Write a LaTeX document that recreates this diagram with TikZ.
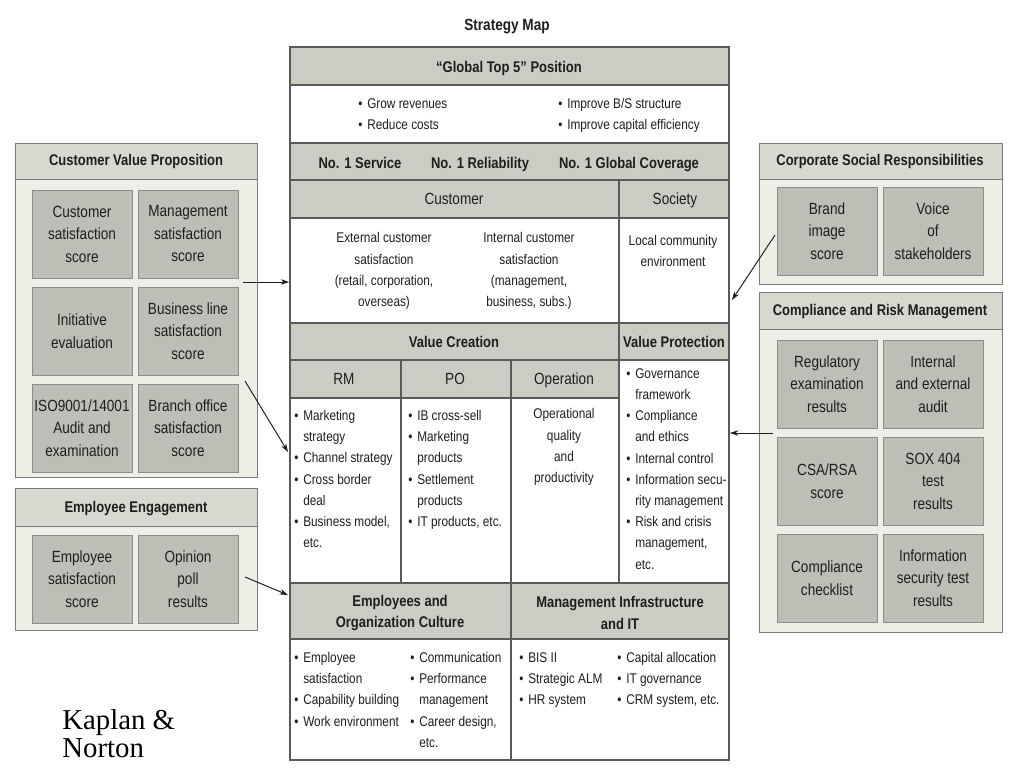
\documentclass[tikz,border=0pt]{standalone}
\usepackage{fontspec}
\setmainfont[FakeStretch=0.84]{Liberation Sans}
\newfontfamily\kaplanfont{Liberation Serif}
\usepackage{tikz}
\usetikzlibrary{arrows.meta, positioning}
\definecolor{bandgray}{RGB}{204,204,196}
\definecolor{panelgray}{RGB}{238,238,231}
\definecolor{panelhead}{RGB}{216,216,208}
\definecolor{tilegray}{RGB}{190,190,183}
\definecolor{edgegray}{RGB}{90,90,90}
\definecolor{inkgray}{RGB}{30,30,30}
\newcommand{\bt}{\makebox[6.4pt][l]{\textbullet}}
\newcommand{\bi}{\hspace*{6.4pt}}
\tikzset{
  tile/.style={rectangle, draw=edgegray!70, fill=tilegray, line width=0.6pt,
              minimum width=2.5cm, minimum height=2.2cm, inner sep=1pt,
              font=\fontsize{11.5}{16}\selectfont, align=center},
  headtxt/.style={font=\bfseries\fontsize{11}{15.3}\selectfont, align=center, inner sep=0pt},
  oneline/.style={text height=8.2pt, text depth=2.2pt},
  coltxt/.style={font=\fontsize{11.5}{15}\selectfont, inner sep=0pt, oneline},
  body/.style={font=\fontsize{10}{15.1}\selectfont, align=center, inner sep=0pt},
  blist/.style={font=\fontsize{10}{15.1}\selectfont, align=left, anchor=north west, inner sep=0pt},
  gridline/.style={draw=edgegray, line width=0.9pt},
  frame/.style={rectangle, draw=edgegray, line width=1.1pt, inner sep=0pt},
  panel/.style={draw=edgegray!80, fill=panelgray, line width=0.7pt},
  panelhd/.style={draw=edgegray!80, fill=panelhead, line width=0.7pt},
  arrow/.style={-{Stealth[length=6pt,width=4pt]}, line width=0.7pt, draw=inkgray},
}
\begin{document}
\begin{tikzpicture}[x=0.025cm, y=-0.025cm, text=inkgray]
  \useasboundingbox[fill=white] (0,0) rectangle (1024,768);
  \node[headtxt, oneline, font=\bfseries\fontsize{11.5}{14}\selectfont] (title) at (507,26) {Strategy Map};

  \fill[bandgray] (290,47) rectangle (729,85);
  \fill[bandgray] (290,143) rectangle (729,218);
  \fill[bandgray] (290,323) rectangle (729,360);
  \fill[bandgray] (290,360) rectangle (619,398);
  \fill[bandgray] (290,583) rectangle (729,639);
  \foreach \y in {85,143,180,218,323,360,583,639}
    \draw[gridline] (290,\y) -- (729,\y);
  \draw[gridline] (290,398) -- (619,398);
  \draw[gridline] (619,180) -- (619,583);
  \draw[gridline] (401,360) -- (401,583);
  \draw[gridline] (511,360) -- (511,760);
  \node[frame, minimum width=10.975cm, minimum height=17.825cm] (map) at (509.5,403.5) {};

  \node[headtxt, oneline] (topgoal) at (509,68) {``Global Top 5'' Position};
  \node[blist] (finleft) at (358,98) {\bt Grow revenues\\\bt Reduce costs};
  \node[blist] (finright) at (558,98) {\bt Improve B/S structure\\\bt Improve capital efficiency};
  \node[headtxt, oneline] (nosvc) at (360,164) {No. 1 Service};
  \node[headtxt, oneline] (norel) at (480,164) {No. 1 Reliability};
  \node[headtxt, oneline] (noglob) at (629,164) {No. 1 Global Coverage};
  \node[coltxt] (cust) at (454,200) {Customer};
  \node[coltxt] (soc) at (675,200) {Society};
  \node[body] (extcust) at (384,271) {External customer\\satisfaction\\(retail, corporation,\\overseas)};
  \node[body] (intcust) at (529,271) {Internal customer\\satisfaction\\(management,\\business, subs.)};
  \node[body] (local) at (673,251) {Local community\\environment};
  \node[headtxt, oneline] (vcreate) at (454,343) {Value Creation};
  \node[headtxt, oneline] (vprot) at (674,343) {Value Protection};
  \node[coltxt] (rm) at (344,380) {RM};
  \node[coltxt] (po) at (455,380) {PO};
  \node[coltxt] (oper) at (564,380) {Operation};
  \node[blist] (rmlist) at (294,410) {\bt Marketing\\\bi strategy\\\bt Channel strategy\\\bt Cross border\\\bi deal\\\bt Business model,\\\bi etc.};
  \node[blist] (polist) at (408,410) {\bt IB cross-sell\\\bt Marketing\\\bi products\\\bt Settlement\\\bi products\\\bt IT products, etc.};
  \node[body] (operq) at (564,447) {Operational\\quality\\and\\productivity};
  \node[blist] (vplist) at (626,368) {\bt Governance\\\bi framework\\\bt Compliance\\\bi and ethics\\\bt Internal control\\\bt Information secu-\\\bi rity management\\\bt Risk and crisis\\\bi management,\\\bi etc.};
  \node[headtxt] (empcult) at (400,613) {Employees and\\Organization Culture};
  \node[headtxt] (mgmtit) at (620,613) {Management Infrastructure\\and IT};
  \node[blist] (emplist) at (294,652) {\bt Employee\\\bi satisfaction\\\bt Capability building\\\bt Work environment};
  \node[blist] (commlist) at (410,652) {\bt Communication\\\bt Performance\\\bi management\\\bt Career design,\\\bi etc.};
  \node[blist] (itlist) at (519,652) {\bt BIS II\\\bt Strategic ALM\\\bt HR system};
  \node[blist] (caplist) at (617,652) {\bt Capital allocation\\\bt IT governance\\\bt CRM system, etc.};

  \foreach \xa/\xb/\ya/\yh/\yb in {15/257/143/179/477, 15/257/488/526/630, 759/1002/143/179/284, 759/1002/292/329/632}{
    \draw[panel] (\xa,\ya) rectangle (\xb,\yb);
    \draw[panelhd] (\xa,\ya) rectangle (\xb,\yh);
  }
  \node[headtxt, oneline] (cvptitle) at (136,161) {Customer Value Proposition};
  \node[headtxt, oneline] (eetitle) at (136,508) {Employee Engagement};
  \node[headtxt, oneline] (csrtitle) at (880,161) {Corporate Social Responsibilities};
  \node[headtxt, oneline] (crmtitle) at (880,311) {Compliance and Risk Management};

  \foreach \nm/\x/\y/\txt in {
      cvpa/82/234/{Customer\\satisfaction\\score},
      cvpb/188/234/{Management\\satisfaction\\score},
      cvpc/82/331/{Initiative\\evaluation},
      cvpd/188/331/{Business line\\satisfaction\\score},
      cvpe/82/428/{ISO9001/14001\\Audit and\\examination},
      cvpf/188/428/{Branch office\\satisfaction\\score},
      eea/82/579/{Employee\\satisfaction\\score},
      eeb/188/579/{Opinion\\poll\\results},
      csra/827/231/{Brand\\image\\score},
      csrb/933/231/{Voice\\of\\stakeholders},
      crma/827/384/{Regulatory\\examination\\results},
      crmb/933/384/{Internal\\and external\\audit},
      crmc/827/481/{CSA/RSA\\score},
      crmd/933/481/{SOX 404\\test\\results},
      crme/827/578/{Compliance\\checklist},
      crmf/933/578/{Information\\security test\\results}}
    \node[tile] (\nm) at (\x,\y) {\txt};

  \coordinate (cvpout) at (243,282);
  \coordinate (cvpdiag) at (245,381);
  \coordinate (rmin) at (288,452);
  \coordinate (eeout) at (245,577);
  \coordinate (empin) at (288,595);
  \coordinate (csrout) at (775,235);
  \coordinate (socin) at (732,300);
  \coordinate (crmout) at (773,433);
  \draw[arrow] (cvpout) -- (map.west |- cvpout);
  \draw[arrow] (cvpdiag) -- (rmin);
  \draw[arrow] (eeout) -- (empin);
  \draw[arrow] (csrout) -- (socin);
  \draw[arrow] (crmout) -- (map.east |- crmout);

  \node[anchor=west, align=left, inner sep=0pt, text=black,
        font=\kaplanfont\fontsize{20.5}{20}\selectfont] (cite) at (62,734) {Kaplan \&\\Norton};
\end{tikzpicture}
\end{document}
